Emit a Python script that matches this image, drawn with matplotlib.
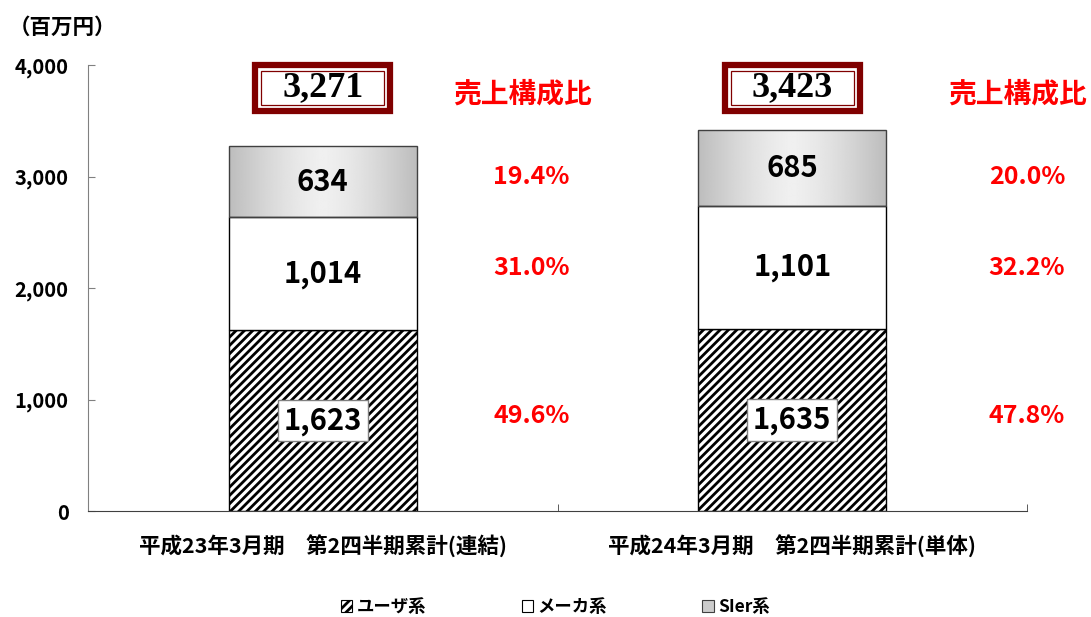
import numpy as np
import matplotlib
matplotlib.use('Agg')
import matplotlib.pyplot as plt
from matplotlib.patches import Rectangle, Patch

plt.rcParams['font.family'] = ['Noto Sans CJK JP', 'DejaVu Sans']
plt.rcParams['hatch.linewidth'] = 2.0

# data
categories = ['平成23年3月期\u3000第2四半期累計(連結)', '平成24年3月期\u3000第2四半期累計(単体)']
user = [1623, 1635]
maker = [1014, 1101]
sier = [634, 685]
totals = [3271, 3423]
user_pct = ['49.6%', '47.8%']
maker_pct = ['31.0%', '32.2%']
sier_pct = ['19.4%', '20.0%']
series_names = ['ユーザ系', 'メーカ系', 'SIer系']
yticks = [0, 1000, 2000, 3000, 4000]

DARK_RED = '#800000'
RED = '#ff0000'

fig = plt.figure(figsize=(10.91, 6.17), dpi=100)
ax = fig.add_axes([88 / 1091, 106 / 617, (1027 - 88) / 1091, (511 - 65) / 617])

x = np.arange(len(categories))
w = 0.4
bottom2 = np.array(user)
bottom3 = np.add(user, maker)

b1 = ax.bar(x, user, w, color='white', edgecolor='black', hatch='////', lw=1, zorder=2)
b2 = ax.bar(x, maker, w, bottom=bottom2, color='white', edgecolor='black', lw=1, zorder=2)
b3 = ax.bar(x, sier, w, bottom=bottom3, color='none', edgecolor='#404040', lw=1, zorder=2)

# metallic grey gradient for the top segment
t = np.linspace(-1, 1, 256)
shade = 0.94 - 0.2 * np.abs(t) ** 1.4
for rect in b3:
    x0, y0 = rect.get_x(), rect.get_y()
    im = ax.imshow(shade[None, :], cmap='gray', vmin=0, vmax=1, aspect='auto',
                   extent=[x0, x0 + rect.get_width(), y0, y0 + rect.get_height()],
                   zorder=1, interpolation='bilinear')
    im.set_clip_path(rect)

ax.set_xlim(-0.5, 1.5)
ax.set_ylim(0, 4000)

# value labels inside segments
for i in range(len(x)):
    ax.text(x[i], user[i] / 2, f'{user[i]:,}', ha='center', va='center',
            fontsize=21, fontweight='bold', zorder=5,
            bbox=dict(boxstyle='square,pad=0.2', fc='white', ec='#808080', lw=1))
    ax.text(x[i], bottom2[i] + maker[i] / 2, f'{maker[i]:,}', ha='center', va='center',
            fontsize=21, fontweight='bold', zorder=5)
    ax.text(x[i], bottom3[i] + sier[i] / 2, f'{sier[i]:,}', ha='center', va='center',
            fontsize=21, fontweight='bold', zorder=5)

# total boxes
bw = 0.2875
for i in range(len(x)):
    outer = Rectangle((x[i] - bw / 2, 3590), bw, 410, fc='white', ec=DARK_RED,
                      lw=4.5, clip_on=False, zorder=3)
    ax.add_patch(outer)
    dx, dy = 6 / 469.5, 6 / 111.75 * 1000
    inner = Rectangle((x[i] - bw / 2 + dx, 3590 + dy), bw - 2 * dx, 410 - 2 * dy,
                      fc='none', ec=DARK_RED, lw=0.9, clip_on=False, zorder=4)
    ax.add_patch(inner)
    ax.text(x[i], 3800, f'{totals[i]:,}', ha='center', va='center',
            family='Liberation Serif', fontsize=26, fontweight='bold', zorder=5)

# composition ratio column, rows aligned with the first bar's segments
row_y = [user[0] / 2 + 45, bottom2[0] + maker[0] / 2 + 45, bottom3[0] + sier[0] / 2 + 45]
title_off = [0.425, 0.48]
pct_off = [0.445, 0.50]
for i in range(len(x)):
    ax.text(x[i] + title_off[i], 3732, '売上構成比', color=RED, ha='center', va='center',
            fontsize=20, fontweight='bold', clip_on=False)
    for val, yy in zip([user_pct[i], maker_pct[i], sier_pct[i]], row_y):
        ax.text(x[i] + pct_off[i], yy, val, color=RED, ha='center', va='center',
                fontsize=18, fontweight='bold', clip_on=False)

# axes styling
for s in ['top', 'right']:
    ax.spines[s].set_visible(False)
ax.spines['left'].set_color('#808080')
ax.spines['bottom'].set_color('#404040')
ax.set_yticks(yticks)
ax.set_yticklabels([f'{v:,}' for v in yticks], fontsize=14.5, fontweight='bold')
ax.tick_params(axis='y', direction='in', length=5, color='#808080', pad=14)
ax.set_xticks(x)
ax.set_xticklabels(categories, fontsize=15.5, fontweight='bold')
ax.tick_params(axis='x', which='major', length=0, pad=17)
ax.set_xticks([0.5, 1.5], minor=True)
ax.tick_params(axis='x', which='minor', direction='in', length=5, color='#404040')

fig.text(0.008, 1 - 27 / 617, '（百万円）', fontsize=15.5, fontweight='bold', va='center')

handles = [Patch(fc='white', ec='black', hatch='////', lw=0.8),
           Patch(fc='white', ec='black', lw=0.8),
           Patch(fc='#cccccc', ec='#404040', lw=0.8)]
fig.legend(handles, series_names, loc='center', bbox_to_anchor=(0.509, 1 - 607 / 617),
           ncol=3, frameon=False, prop={'weight': 'bold', 'size': 12.5},
           handlelength=0.65, handleheight=0.65, handletextpad=0.25, columnspacing=5.5)

fig.savefig('out.png', dpi=100)
